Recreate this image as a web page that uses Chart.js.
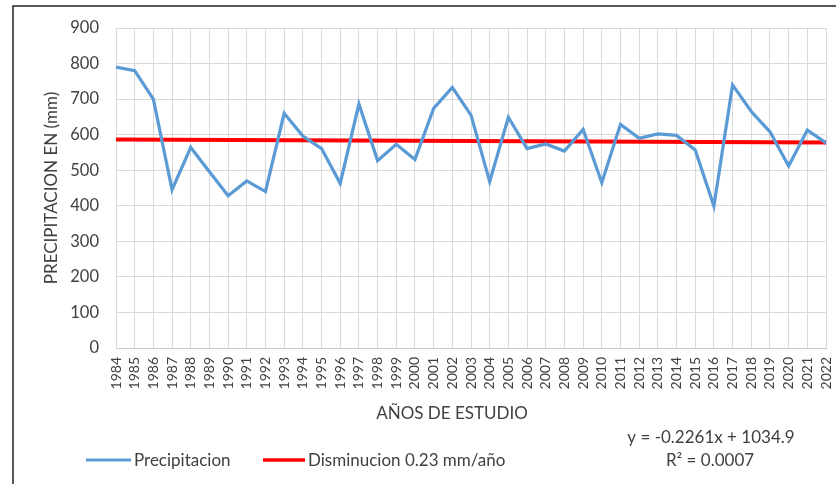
<!DOCTYPE html>
<html>
<head>
<meta charset="utf-8">
<script src="https://cdn.jsdelivr.net/npm/chart.js@4.4.0/dist/chart.umd.min.js"></script>
<style>
  html, body { margin: 0; padding: 0; background: #fff; }
  #wrap { width: 836px; height: 484px; position: relative; }
</style>
</head>
<body>
<div id="wrap"><canvas id="myChart"></canvas></div>
<script>
const years = ["1984","1985","1986","1987","1988","1989","1990","1991","1992","1993",
  "1994","1995","1996","1997","1998","1999","2000","2001","2002","2003",
  "2004","2005","2006","2007","2008","2009","2010","2011","2012","2013",
  "2014","2015","2016","2017","2018","2019","2020","2021","2022"];

const precipitacion = [790, 780, 700, 445, 564, 496, 428, 470, 440, 660,
  596, 561, 463, 686, 527, 573, 530, 674, 733, 655,
  468, 649, 561, 574, 554, 615, 465, 629, 590, 602,
  598, 557, 399, 740, 665, 608, 512, 613, 577];

// trend line: only the two ends, joined by spanGaps
const tendencia = [586.3, null, null, null, null, null, null, null, null, null,
  null, null, null, null, null, null, null, null, null, null,
  null, null, null, null, null, null, null, null, null, null,
  null, null, null, null, null, null, null, null, 577.7];

const yTicks = [0, 100, 200, 300, 400, 500, 600, 700, 800, 900];

const seriesNames = ["Precipitacion", "Disminucion 0.23 mm/año"];
const xTitle = "AÑOS DE ESTUDIO";
const ecuacion = "y = -0.2261x + 1034.9";
const r2 = "R² = 0.0007";

const FONT = "Lato, 'Open Sans', sans-serif";
const txtColor = "#404040";

// frame, x title, legend and equation
const extras = {
  id: "extras",
  afterDraw(chart) {
    const c = chart.ctx;
    c.save();
    c.strokeStyle = "#222";
    c.lineWidth = 1.5;
    c.beginPath();
    c.moveTo(13, 484);
    c.lineTo(13, 6);
    c.lineTo(836, 6);
    c.stroke();

    c.font = "17px " + FONT;
    c.fillStyle = txtColor;
    c.textBaseline = "middle";
    c.textAlign = "center";
    c.fillText(xTitle, 452, 414);

    const ds = chart.data.datasets;
    c.strokeStyle = ds[0].borderColor;
    c.lineWidth = 3;
    c.beginPath(); c.moveTo(86, 460); c.lineTo(131, 460); c.stroke();
    c.textAlign = "left";
    c.fillText(seriesNames[0], 134, 461);

    c.strokeStyle = ds[1].borderColor;
    c.lineWidth = 3.5;
    c.beginPath(); c.moveTo(263, 460); c.lineTo(305, 460); c.stroke();
    c.fillText(seriesNames[1], 308, 461);

    c.textAlign = "center";
    c.fillText(ecuacion, 711, 438);
    c.fillText(r2, 710, 461);
    c.restore();
  }
};

const ctx = document.getElementById("myChart").getContext("2d");
const myChart = new Chart(ctx, {
  type: "line",
  data: {
    labels: years,
    datasets: [
      {
        label: seriesNames[0],
        data: precipitacion,
        borderColor: "#5B9BD5",
        borderWidth: 3.25,
        pointRadius: 0,
        tension: 0,
      },
      {
        label: seriesNames[1],
        data: tendencia,
        borderColor: "#FF0000",
        borderWidth: 4,
        pointRadius: 0,
        spanGaps: true,
      },
    ],
  },
  options: {
    responsive: true,
    maintainAspectRatio: false,
    animation: false,
    layout: { padding: { left: 41, top: 28, right: 10, bottom: 60 } },
    plugins: {
      legend: { display: false },
      tooltip: { enabled: false },
    },
    scales: {
      x: {
        offset: false,
        grid: { color: "#d9d9d9", lineWidth: 1, drawTicks: false },
        border: { color: "#c8c8c8" },
        ticks: {
          autoSkip: false,
          maxRotation: 90,
          minRotation: 90,
          padding: 9,
          color: txtColor,
          font: { family: FONT, size: 14 },
        },
        afterFit(scale) {
          scale.height = 76;
          scale.paddingRight = 0;
        },
      },
      y: {
        min: 0,
        max: 900,
        afterBuildTicks(scale) { scale.ticks = yTicks.map(v => ({ value: v })); },
        grid: { color: "#d9d9d9", lineWidth: 1, drawTicks: false },
        border: { color: "#d9d9d9" },
        ticks: {
          padding: 17,
          color: txtColor,
          font: { family: FONT, size: 16.5 },
        },
        title: {
          display: true,
          text: "PRECIPITACION EN (mm)",
          color: txtColor,
          font: { family: FONT, size: 17 },
          padding: { top: 0, bottom: 0 },
        },
        afterFit(scale) { scale.width = 75; },
      },
    },
  },
  plugins: [extras],
});
</script>
</body>
</html>
